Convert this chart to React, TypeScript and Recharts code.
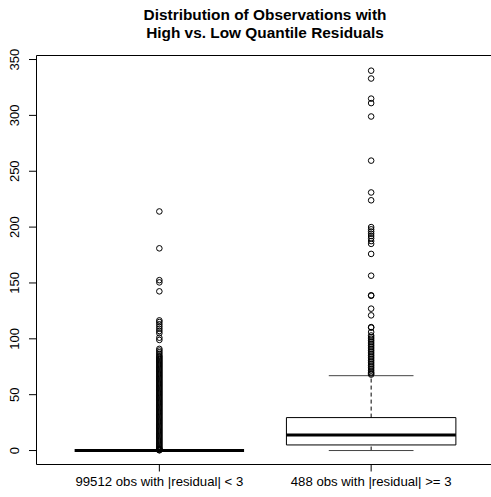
import React from 'react';
import { ComposedChart, Scatter, XAxis, YAxis, ReferenceArea, ReferenceLine } from 'recharts';

// group labels and axis ticks
const categories = ['99512 obs with |residual| < 3', '488 obs with |residual| >= 3'];
const categoryPositions = [1, 2];
const yTicks = [0, 50, 100, 150, 200, 250, 300, 350];

// box statistics, one entry per group
const lowerWhiskers = [0, 0];
const q1s = [0, 5];
const medians = [0, 14];
const q3s = [0, 29.5];
const upperWhiskers = [0, 67];

// outliers
const lowOutliers = [
  214, 181, 152.5, 150.5, 142.5, 116.5, 115, 113, 111, 109, 107, 105, 101, 99, 91, 89.5, 88, 86.5,
  85, 84, 83, 82, 81, 80, 79, 78, 77, 76, 75, 74, 73, 72, 71, 70, 69, 68, 67, 66, 65, 64, 63, 62,
  61, 60, 59, 58, 57, 56, 55, 54, 53, 52, 51, 50, 49, 48, 47, 46, 45, 44, 43, 42, 41, 40, 39, 38,
  37, 36, 35, 34, 33, 32, 31, 30, 29, 28, 27, 26, 25, 24, 23, 22, 21, 20, 19, 18, 17, 16, 15, 14,
  13, 12, 11, 10, 9, 8, 7, 6, 5, 4, 3, 2, 1.5, 1, 0.5, 0.2,
];
const highOutliers = [
  340, 333, 315, 311, 299, 259.5, 231, 224, 200, 198, 196, 194, 192, 190, 187.5, 185, 176, 156.5,
  139, 138.5, 127, 121, 110.5, 110, 106, 103, 101.5, 100, 98.5, 97, 95.5, 94, 92.5, 91, 89.5, 88,
  86.5, 85, 83.5, 82, 80.5, 79, 77.5, 76, 74.5, 73, 71.5, 70, 69, 68,
];

const X_DOMAIN: [number, number] = [0.42, 2.58];
const Y_DOMAIN: [number, number] = [-12.5, 353.6];
const BOX_HALF = 0.4;
const CAP_HALF = 0.2;
const FONT = '"Liberation Sans", Arial, Helvetica, sans-serif';

const Circle = (props: any) => (
  <circle cx={props.cx} cy={props.cy} r={2.8} fill="none" stroke="#000" strokeWidth={1} />
);

const XTick = (props: any) => {
  const { x, y, payload } = props;
  const idx = categoryPositions.indexOf(payload.value);
  return (
    <text x={x} y={y} dy={14.5} textAnchor="middle" fontSize={13.2} fontFamily={FONT} fill="#000">
      {categories[idx]}
    </text>
  );
};

const YTick = (props: any) => {
  const { x, y, payload } = props;
  const bx = x - 9.5;
  return (
    <text
      x={bx}
      y={y}
      transform={`rotate(-90, ${bx}, ${y})`}
      textAnchor="middle"
      fontSize={13}
      fontFamily={FONT}
      fill="#000"
    >
      {payload.value}
    </text>
  );
};

const App = () => {
  const lowData = lowOutliers.map((v) => ({ x: categoryPositions[0], y: v }));
  const highData = highOutliers.map((v) => ({ x: categoryPositions[1], y: v }));

  return (
    <div style={{ position: 'absolute', left: 0, top: 0, width: 491, height: 497, overflow: 'hidden', background: '#fff' }}>
      <div
        style={{
          position: 'absolute',
          left: 65,
          top: 5.7,
          width: 400,
          textAlign: 'center',
          fontFamily: FONT,
          fontWeight: 'bold',
          fontSize: 15.4,
          lineHeight: '18px',
          color: '#000',
        }}
      >
        Distribution of Observations with
        <br />
        High vs. Low Quantile Residuals
      </div>
      <ComposedChart width={494} height={497} margin={{ top: 55.5, right: 0, bottom: 0, left: 0 }}>
        <XAxis
          dataKey="x"
          type="number"
          domain={X_DOMAIN}
          ticks={categoryPositions}
          allowDataOverflow
          axisLine={false}
          tickLine={{ stroke: '#000' }}
          tickSize={7}
          tickMargin={0}
          height={32.5}
          tick={<XTick />}
        />
        <YAxis
          dataKey="y"
          type="number"
          domain={Y_DOMAIN}
          ticks={yTicks}
          allowDataOverflow
          axisLine={false}
          tickLine={{ stroke: '#000' }}
          tickSize={7.5}
          tickMargin={0}
          width={36.5}
          tick={<YTick />}
        />
        {/* plot frame */}
        <ReferenceArea
          x1={X_DOMAIN[0]}
          x2={X_DOMAIN[1]}
          y1={Y_DOMAIN[0]}
          y2={Y_DOMAIN[1]}
          fill="none"
          stroke="#000"
          strokeWidth={1}
        />
        {categoryPositions.map((c, i) => (
          <React.Fragment key={c}>
            <ReferenceLine
              segment={[{ x: c, y: q3s[i] }, { x: c, y: upperWhiskers[i] }]}
              stroke="#000"
              strokeDasharray="4 3"
            />
            <ReferenceLine
              segment={[{ x: c, y: lowerWhiskers[i] }, { x: c, y: q1s[i] }]}
              stroke="#000"
              strokeDasharray="4 3"
            />
            <ReferenceLine
              segment={[{ x: c - CAP_HALF, y: upperWhiskers[i] }, { x: c + CAP_HALF, y: upperWhiskers[i] }]}
              stroke="#444"
            />
            <ReferenceLine
              segment={[{ x: c - CAP_HALF, y: lowerWhiskers[i] }, { x: c + CAP_HALF, y: lowerWhiskers[i] }]}
              stroke="#444"
            />
            <ReferenceArea
              x1={c - BOX_HALF}
              x2={c + BOX_HALF}
              y1={q1s[i]}
              y2={q3s[i]}
              fill="#fff"
              fillOpacity={1}
              stroke="#000"
              strokeWidth={1}
            />
            <ReferenceLine
              segment={[{ x: c - BOX_HALF, y: medians[i] }, { x: c + BOX_HALF, y: medians[i] }]}
              stroke="#000"
              strokeWidth={3}
            />
          </React.Fragment>
        ))}
        <Scatter data={lowData} shape={<Circle />} isAnimationActive={false} />
        <Scatter data={highData} shape={<Circle />} isAnimationActive={false} />
      </ComposedChart>
    </div>
  );
};

export default App;
